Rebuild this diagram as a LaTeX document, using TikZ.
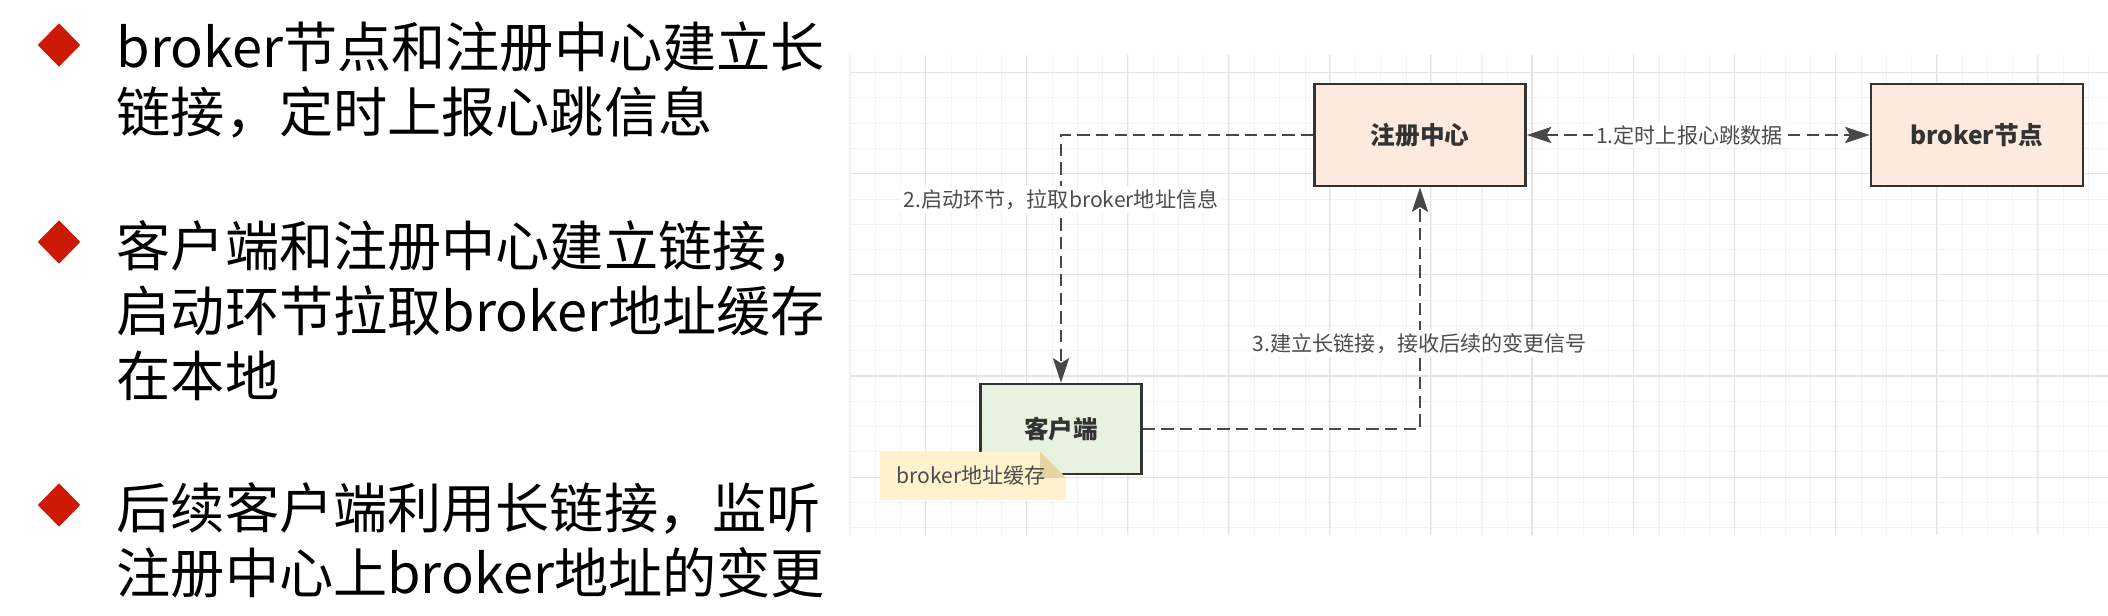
\documentclass[tikz,border=0pt]{standalone}
\usepackage{fontspec}
\newfontfamily\cjkfont{Noto Sans CJK SC}
\usetikzlibrary{arrows.meta,positioning,shapes.geometric}
\definecolor{regfill}{RGB}{252,234,222}
\definecolor{clientfill}{RGB}{232,242,224}
\definecolor{notefill}{RGB}{255,242,204}
\definecolor{notefold}{RGB}{232,212,160}
\definecolor{linegray}{RGB}{72,72,72}
\definecolor{bulletred}{RGB}{204,26,6}
\definecolor{gridminor}{RGB}{242,242,242}
\definecolor{gridmajor}{RGB}{228,228,228}

\begin{document}
\begin{tikzpicture}[x=0.01cm, y=-0.01cm, >={Stealth[length=7pt,width=4.6pt,inset=1.4pt]},
                bullet node/.style={diamond, fill=bulletred, inner sep=0pt, minimum width=0.43cm, minimum height=0.44cm},
                point text/.style={anchor=west, inner sep=0pt, align=left, font=\cjkfont\fontsize{15.4pt}{18.5pt}\selectfont},
                box node/.style={rectangle, draw=black!80, line width=0.7pt, text=black!80, font=\cjkfont\bfseries\fontsize{7pt}{8pt}\selectfont},
                link/.style={draw=linegray, line width=0.6pt, dash pattern=on 3.5pt off 1.8pt},
                link label/.style={fill=white, inner sep=1pt, text=black!70, font=\cjkfont\fontsize{6pt}{7pt}\selectfont}]

  \useasboundingbox (0,0) rectangle (2108,616);
  \fill[white] (0,0) rectangle (2108,616);

  % grid of the drawing board
  \begin{scope}[line width=0.3pt]
    \foreach \k in {0,...,49} \draw[gridminor] ({850+25.28*\k},55) -- ({850+25.28*\k},535);
    \foreach \k in {0,...,18} \draw[gridminor] (850,{72.7+25.28*\k}) -- (2108,{72.7+25.28*\k});
    \foreach \k in {0,...,11} \draw[gridmajor] ({925.4+101.1*\k},55) -- ({925.4+101.1*\k},535);
    \foreach \k in {0,...,4} \draw[gridmajor] (850,{72.7+101.1*\k}) -- (2108,{72.7+101.1*\k});
  \end{scope}

  % points on the left
  \node[bullet node] (b1) at (59,45) {};
  \node[bullet node] (b2) at (59,242) {};
  \node[bullet node] (b3) at (59,505) {};
  \node[point text] (p1) at (116,80) {broker节点和注册中心建立长\\链接，定时上报心跳信息};
  \node[point text] (p2) at (116,311) {客户端和注册中心建立链接，\\启动环节拉取broker地址缓存\\在本地};
  \node[point text] (p3) at (116,540) {后续客户端利用长链接，监听\\注册中心上broker地址的变更};

  % boxes
  \node[box node, fill=regfill, minimum width=2.11cm, minimum height=1.02cm] (reg) at (1420,135) {注册中心};
  \node[box node, fill=regfill, minimum width=2.12cm, minimum height=1.02cm] (broker) at (1977,135) {broker节点};
  \node[box node, fill=clientfill, minimum width=1.61cm, minimum height=0.90cm] (client) at (1061,429) {客户端};

  % note on the client
  \fill[notefill] (880,452) -- (1040,452) -- (1066,478) -- (1066,500) -- (880,500) -- cycle;
  \fill[notefold] (1040,452) -- (1040,478) -- (1066,478) -- cycle;
  \node[link label, fill=none] (cache) at (971,476) {broker地址缓存};

  \draw[link, <->] (reg) -- node[link label, pos=0.474] {1.定时上报心跳数据} (broker);
  \draw[link, ->] (reg.west) -| node[link label, pos=0.63] {2.启动环节，拉取broker地址信息} (client.north);
  \draw[link, ->] (client.east) -| node[link label, pos=0.677] {3.建立长链接，接收后续的变更信号} (reg.south);
\end{tikzpicture}
\end{document}
